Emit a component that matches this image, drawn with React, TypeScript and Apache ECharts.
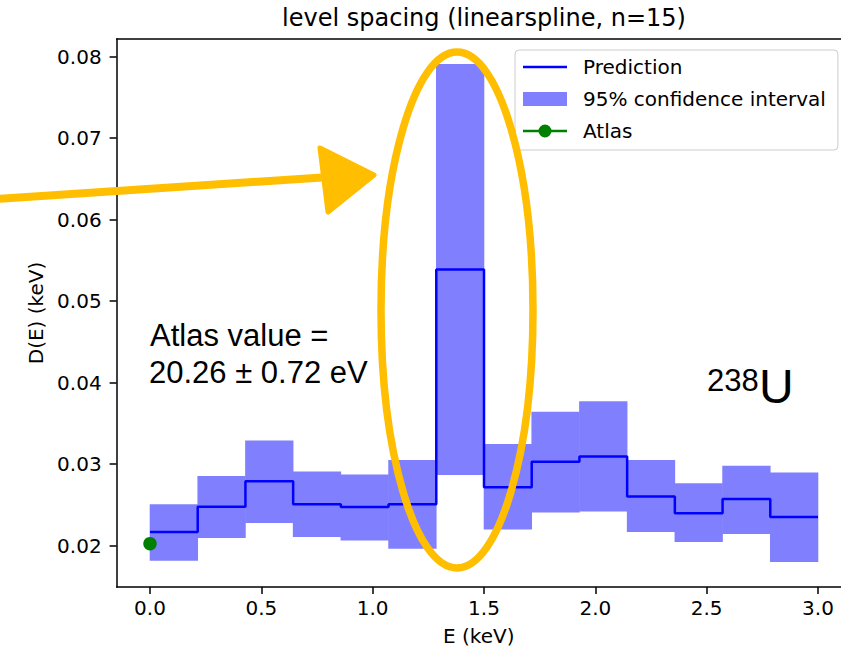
import React, { useEffect, useRef } from "react";
import * as echarts from "echarts";

// ---- data ----
const binEdges = [0, 0.2143, 0.4286, 0.6429, 0.8571, 1.0714, 1.2857, 1.5, 1.7143, 1.9286, 2.1429, 2.3571, 2.5714, 2.7857, 3.0];
const prediction = [0.02168, 0.02478, 0.02792, 0.0251, 0.02474, 0.0251, 0.05388, 0.02719, 0.03029, 0.03094, 0.02604, 0.024, 0.02572, 0.02352];
const ciLower = [0.01817, 0.02094, 0.02278, 0.02107, 0.02065, 0.01964, 0.02869, 0.022, 0.02408, 0.0242, 0.02168, 0.02045, 0.02143, 0.018];
const ciUpper = [0.0251, 0.02857, 0.0329, 0.0291, 0.02873, 0.03053, 0.0791, 0.03249, 0.03645, 0.03772, 0.03053, 0.02768, 0.0298, 0.029];
const atlasE = [0];
const atlasD = [0.02026];
const xTicks = [0, 0.5, 1.0, 1.5, 2.0, 2.5, 3.0];
const yTicks = [0.02, 0.03, 0.04, 0.05, 0.06, 0.07, 0.08];

const titleText = "level spacing (linearspline, n=15)";
const xName = "E (keV)";
const yName = "D(E) (keV)";
const legendNames = ["Prediction", "95% confidence interval", "Atlas"];
const noteLines = ["Atlas value =", "20.26 \u00b1 0.72 eV"];
const isotopeMass = "238";
const isotopeSymbol = "U";

const MPL_FONT = "DejaVu Sans";
const NOTE_FONT = "Liberation Sans, Arial, Helvetica, sans-serif";
const YELLOW = "#FFBE00";

export default function App() {
  const ref = useRef<HTMLDivElement>(null);

  useEffect(() => {
    if (!ref.current) return;
    const chart = echarts.init(ref.current, null, { renderer: "svg" });

    const stepLine: number[][] = [];
    prediction.forEach((v, i) => {
      stepLine.push([binEdges[i], v]);
      stepLine.push([binEdges[i + 1], v]);
    });
    const bandData = prediction.map((_, i) => [binEdges[i], binEdges[i + 1], ciLower[i], ciUpper[i]]);
    const atlasData = atlasE.map((e, i) => [e, atlasD[i]]);

    const linePath = "path://M0,0 L44,0 L44,2.5 L0,2.5 Z";
    const atlasPath =
      "path://M0,5.25 L44,5.25 L44,7.75 L0,7.75 Z M28.5,6.5 A6.5,6.5 0 1,1 15.5,6.5 A6.5,6.5 0 1,1 28.5,6.5 Z";

    const spine = { show: true, onZero: false, lineStyle: { color: "#000", width: 1.5 } };

    const option: any = {
      animation: false,
      grid: {
        left: 116.6,
        top: 39,
        right: 0,
        height: 548.5,
        show: false,
        containLabel: false,
      },
      xAxis: [
        {
          type: "value",
          position: "bottom",
          min: -0.15,
          max: 3.1033,
          name: xName,
          nameLocation: "middle",
          nameGap: 39,
          nameTextStyle: { fontFamily: MPL_FONT, fontSize: 20, color: "#000" },
          axisLine: spine,
          axisTick: { show: true, length: 7, lineStyle: { color: "#000", width: 1.5 }, customValues: xTicks },
          axisLabel: {
            customValues: xTicks,
            margin: 11,
            fontFamily: MPL_FONT,
            fontSize: 20,
            color: "#000",
            formatter: (v: number) => v.toFixed(1),
          },
          splitLine: { show: false },
        },
        {
          type: "value",
          position: "top",
          min: -0.15,
          max: 3.1033,
          axisLine: spine,
          axisTick: { show: false },
          axisLabel: { show: false },
          splitLine: { show: false },
        },
      ],
      yAxis: {
        type: "value",
        min: 0.01494,
        max: 0.08216,
        name: yName,
        nameLocation: "middle",
        nameGap: 71,
        nameTextStyle: { fontFamily: MPL_FONT, fontSize: 20, color: "#000" },
        axisLine: spine,
        axisTick: { show: true, length: 7, lineStyle: { color: "#000", width: 1.5 }, customValues: yTicks },
        axisLabel: {
          customValues: yTicks,
          margin: 15,
          fontFamily: MPL_FONT,
          fontSize: 20,
          color: "#000",
          formatter: (v: number) => v.toFixed(2),
        },
        splitLine: { show: false },
      },
      legend: {
        orient: "vertical",
        left: 515,
        top: 50,
        padding: [7, 12, 9, 8],
        itemWidth: 44,
        itemHeight: 14,
        itemGap: 12,
        backgroundColor: "rgba(255,255,255,0.8)",
        borderColor: "#cccccc",
        borderWidth: 1,
        borderRadius: 4,
        selectedMode: false,
        itemStyle: { borderWidth: 0 },
        textStyle: { fontFamily: MPL_FONT, fontSize: 20, color: "#000", lineHeight: 20, padding: [0, 0, 0, 11] },
        data: [
          { name: legendNames[0], icon: linePath },
          { name: legendNames[1], icon: "rect" },
          { name: legendNames[2], icon: atlasPath },
        ],
      },
      series: [
        {
          name: legendNames[1],
          type: "custom",
          itemStyle: { color: "#8080ff" },
          encode: { x: [0, 1], y: [2, 3] },
          data: bandData,
          z: 1,
          renderItem: (params: any, api: any) => {
            const p0 = api.coord([api.value(0), api.value(3)]);
            const p1 = api.coord([api.value(1), api.value(2)]);
            return {
              type: "rect",
              shape: { x: p0[0] - 0.3, y: p0[1], width: p1[0] - p0[0] + 0.6, height: p1[1] - p0[1] },
              style: { fill: "#8080ff" },
            };
          },
        },
        {
          name: legendNames[0],
          type: "line",
          data: stepLine,
          showSymbol: false,
          symbol: "none",
          itemStyle: { color: "#0000ff" },
          lineStyle: { color: "#0000ff", width: 2.5 },
          z: 3,
        },
        {
          name: legendNames[2],
          type: "line",
          data: atlasData,
          symbol: "circle",
          symbolSize: 13.5,
          itemStyle: { color: "#008000", borderWidth: 0 },
          lineStyle: { color: "#008000", width: 2.5 },
          z: 4,
        },
      ],
      graphic: [
        {
          type: "text",
          x: 484,
          y: 18,
          z: 50,
          style: {
            text: titleText,
            fontFamily: MPL_FONT,
            fontSize: 24,
            fill: "#000",
            align: "center",
            verticalAlign: "middle",
          },
        },
        {
          type: "text",
          x: 150,
          y: 335,
          z: 50,
          style: { text: noteLines[0], fontFamily: NOTE_FONT, fontSize: 31, fill: "#000", verticalAlign: "middle" },
        },
        {
          type: "text",
          x: 149,
          y: 372,
          z: 50,
          style: { text: noteLines[1], fontFamily: NOTE_FONT, fontSize: 31, fill: "#000", verticalAlign: "middle" },
        },
        {
          type: "text",
          x: 707,
          y: 380,
          z: 50,
          style: { text: isotopeMass, fontFamily: NOTE_FONT, fontSize: 31, fill: "#000", verticalAlign: "middle" },
        },
        {
          type: "text",
          x: 759,
          y: 386,
          z: 50,
          style: { text: isotopeSymbol, fontFamily: NOTE_FONT, fontSize: 48, fill: "#000", verticalAlign: "middle" },
        },
        {
          type: "ellipse",
          z: 100,
          shape: { cx: 457, cy: 310, rx: 76, ry: 258 },
          style: { fill: "none", stroke: YELLOW, lineWidth: 7.5 },
        },
        {
          type: "line",
          z: 100,
          shape: { x1: -5, y1: 199, x2: 330, y2: 177 },
          style: { stroke: YELLOW, lineWidth: 8, lineCap: "round" },
        },
        {
          type: "polygon",
          z: 100,
          shape: { points: [[320, 148], [374, 175], [328, 212]] },
          style: { fill: YELLOW, stroke: YELLOW, lineWidth: 5, lineJoin: "round" },
        },
      ],
    };

    chart.setOption(option);
    return () => chart.dispose();
  }, []);

  return <div ref={ref} style={{ position: "fixed", left: 0, top: 0, width: 841, height: 651, background: "#fff" }} />;
}
